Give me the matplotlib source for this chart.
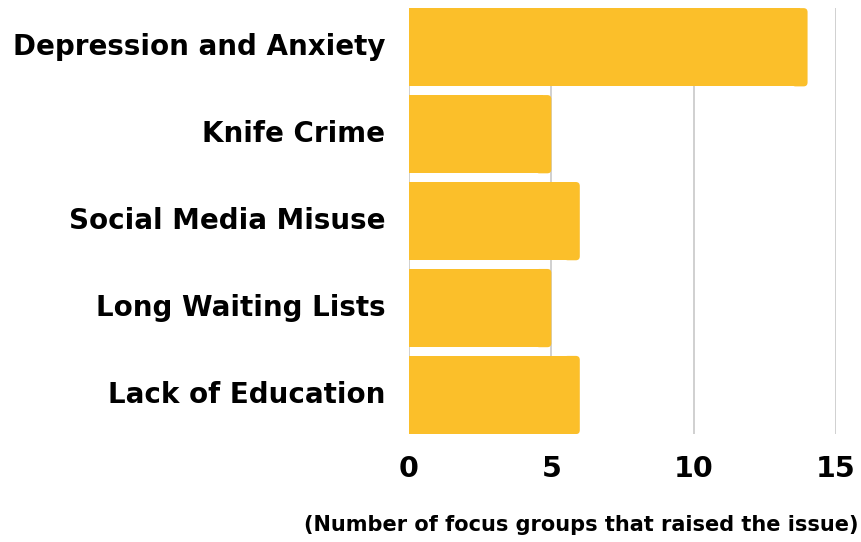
import matplotlib
matplotlib.use("Agg")
import matplotlib.pyplot as plt
from matplotlib.patches import FancyBboxPatch

issues = ["Depression and Anxiety", "Knife Crime", "Social Media Misuse",
          "Long Waiting Lists", "Lack of Education"]
groups = [14, 5, 6, 5, 6]
ticks = [0, 5, 10, 15]

bar_color = "#FBBF2A"
plt.rcParams['font.family'] = ['DejaVu Sans']

fig = plt.figure(figsize=(8.61, 5.42), dpi=100)
ax = fig.add_axes([0.475, 0.199, 0.496, 0.786])

ax.set_xlim(0, 15)
ax.set_ylim(len(issues) - 0.55, -0.45)

# rounded right-hand ends: square body plus a rounded cap
px_x = 28.5   # pixels per x unit
px_y = 87.0   # pixels per y unit
r = 4 / px_x
h = 0.9
for i, v in enumerate(groups):
    ax.barh(i, v - 2 * r, height=h, color=bar_color, zorder=2)
    cap = FancyBboxPatch((v - 4 * r, i - h / 2), 4 * r, h,
                         boxstyle="round,pad=0,rounding_size=%f" % r,
                         mutation_aspect=px_x / px_y,
                         facecolor=bar_color, edgecolor="none", zorder=2)
    ax.add_patch(cap)

ax.set_xticks(ticks)
ax.set_xticklabels([str(t) for t in ticks], fontsize=20.5, fontweight="heavy")
ax.set_yticks(range(len(issues)))
ax.set_yticklabels(issues, fontsize=20, fontweight="heavy", va="center")
ax.tick_params(axis="x", length=0, pad=15)
ax.tick_params(axis="y", length=0, pad=17)
ax.grid(axis="x", color="#c8c8c8", linewidth=1.2, zorder=0)
for s in ax.spines.values():
    s.set_visible(False)

fig.text(0.997, 0.012, "(Number of focus groups that raised the issue)",
         ha="right", va="bottom", fontsize=15, fontweight="heavy")

fig.savefig("out.png", dpi=100)
